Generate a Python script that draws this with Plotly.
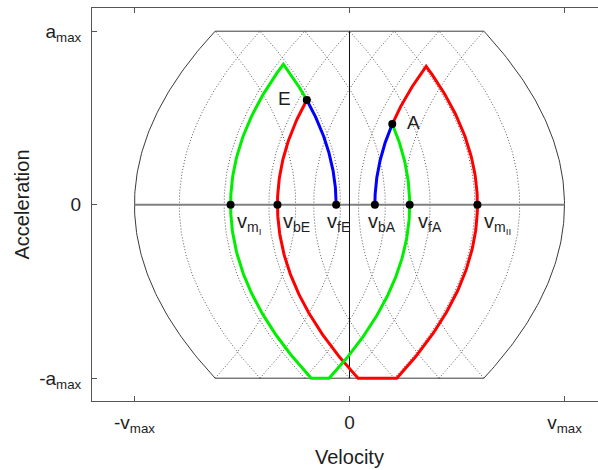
import numpy as np
import plotly.graph_objects as go

# Phase plane of a jerk-limited motion, normalised so that v_max = 1 and a_max = 1.
V_MAX = 1.0
A_MAX = 1.0
# Velocity change of a constant-jerk arc from a = 0 to a = ±a_max (a_max^2 / 2 j_max)
JERK_SPAN = 0.375
# Number of lattice cells across the top/bottom edge of the reachable region
LATTICE_CELLS = 6

# Characteristic velocities at zero acceleration
point_keys = ["mI", "bE", "fE", "bA", "fA", "mII"]
zero_acc_vel = [-0.553, -0.335, -0.062, 0.118, 0.280, 0.595]
point_labels = ["v<sub>m<sub>I</sub></sub>", "v<sub>bE</sub>", "v<sub>fE</sub>",
                "v<sub>bA</sub>", "v<sub>fA</sub>", "v<sub>m<sub>II</sub></sub>"]

# Axis ticks
x_tickvals = [-V_MAX, 0, V_MAX]
x_ticktext = ["-v<sub>max</sub>", "0", "v<sub>max</sub>"]
y_tickvals = [-A_MAX, 0, A_MAX]
y_ticktext = ["-a<sub>max</sub>", "0", "a<sub>max</sub>"]

vel = dict(zip(point_keys, zero_acc_vel))
K = JERK_SPAN


def arc(c, sign, a0, a1, n=120):
    """Constant-jerk arc v = c + sign*K*a^2 for a running from a0 to a1."""
    a = np.linspace(a0, a1, n)
    return list(c + sign * K * a ** 2), list(a)


def meet(c_right_open, c_left_open):
    """Positive acceleration where v = c1 + K a^2 meets v = c2 - K a^2."""
    return np.sqrt((c_left_open - c_right_open) / (2 * K))


def join(*segs, gap=False):
    xs, ys = [], []
    for sx, sy in segs:
        if gap and xs:
            xs.append(None)
            ys.append(None)
        xs += sx
        ys += sy
    return xs, ys


# Switching points E and A
aE = meet(vel["bE"], vel["fE"])
vE = vel["bE"] + K * aE ** 2
aA = meet(vel["bA"], vel["fA"])
vA = vel["bA"] + K * aA ** 2
a_red_top = meet(vel["bA"], vel["mII"])
a_green_top = meet(vel["mI"], vel["fE"])

red = join(arc(vel["bE"], +1, aE, -A_MAX),
           arc(vel["mII"], -1, -A_MAX, a_red_top),
           arc(vel["bA"], +1, a_red_top, aA))
green = join(arc(vel["fA"], -1, aA, -A_MAX),
             arc(vel["mI"], +1, -A_MAX, a_green_top),
             arc(vel["fE"], -1, a_green_top, aE))
blue = join(arc(vel["fE"], -1, aE, 0), arc(vel["bA"], +1, aA, 0), gap=True)

# Reachable-region boundary
edge = V_MAX - K * A_MAX ** 2
boundary = join(([-edge, edge], [A_MAX, A_MAX]),
                arc(V_MAX, -1, A_MAX, -A_MAX),
                ([edge, -edge], [-A_MAX, -A_MAX]),
                arc(-V_MAX, +1, -A_MAX, A_MAX))

# Dotted lattice of constant-jerk arcs touching a = ±a_max
lattice = []
for t in np.linspace(-edge, edge, LATTICE_CELLS + 1):
    for c, s in ((t + K, -1), (t - K, +1)):
        if abs(c) < V_MAX - 1e-9:
            lattice.append(arc(c, s, -A_MAX, A_MAX))
lattice = join(*lattice, gap=True)

FONT = "Liberation Sans, Arial, sans-serif"
TXT = "#1e1e1e"

fig = go.Figure()
fig.add_trace(go.Scatter(x=lattice[0], y=lattice[1], mode="lines",
                         line=dict(color="#5a5a5a", width=1, dash="1px,2px"),
                         hoverinfo="skip"))
fig.add_trace(go.Scatter(x=boundary[0], y=boundary[1], mode="lines",
                         line=dict(color="#3a3a3a", width=1), hoverinfo="skip"))
fig.add_trace(go.Scatter(x=[-V_MAX, V_MAX], y=[0, 0], mode="lines",
                         line=dict(color="#808080", width=2), hoverinfo="skip"))
fig.add_trace(go.Scatter(x=[0, 0], y=[-A_MAX, A_MAX], mode="lines",
                         line=dict(color="#111111", width=1), hoverinfo="skip"))
for path, col in ((red, "#ff0000"), (green, "#00ee00"), (blue, "#0000ff")):
    fig.add_trace(go.Scatter(x=path[0], y=path[1], mode="lines",
                             line=dict(color=col, width=3), hoverinfo="skip"))

fig.add_trace(go.Scatter(x=zero_acc_vel + [vE, vA], y=[0] * len(zero_acc_vel) + [aE, aA],
                         mode="markers", marker=dict(color="black", size=8),
                         hoverinfo="skip"))

annotations = []
label_dx = [5, 5, -10, -8, 7, 6]
for v, txt, dx in zip(zero_acc_vel, point_labels, label_dx):
    annotations.append(dict(x=v, y=0, xref="x", yref="y", text=txt, showarrow=False,
                            xanchor="left", yanchor="top", xshift=dx - 1, yshift=-3,
                            font=dict(family=FONT, size=20, color=TXT)))
annotations.append(dict(x=vE, y=aE, xref="x", yref="y", text="E", showarrow=False,
                        xshift=-22, yshift=2, font=dict(family=FONT, size=19, color=TXT)))
annotations.append(dict(x=vA, y=aA, xref="x", yref="y", text="A", showarrow=False,
                        xshift=21, yshift=2, font=dict(family=FONT, size=19, color=TXT)))
annotations.append(dict(x=0, y=0, xref="x", yref="paper", text="Velocity", showarrow=False,
                        yanchor="middle", yshift=-56,
                        font=dict(family=FONT, size=20, color=TXT)))
annotations.append(dict(x=0, y=0.5, xref="paper", yref="paper", text="Acceleration",
                        showarrow=False, textangle=-90, xanchor="center", yanchor="middle",
                        xshift=-71, font=dict(family=FONT, size=20, color=TXT)))

fig.update_layout(
    width=598, height=470,
    margin=dict(l=92, r=0, t=8, b=69),
    paper_bgcolor="white", plot_bgcolor="white",
    showlegend=False,
    annotations=annotations,
    xaxis=dict(range=[-1.1976, 1.1558], showgrid=False, zeroline=False,
               showline=True, linecolor="#555555", linewidth=1, mirror="ticks",
               ticks="inside", ticklen=5, tickcolor="#555555",
               tickvals=x_tickvals, ticktext=x_ticktext, ticklabelstandoff=4,
               tickfont=dict(family=FONT, size=19, color=TXT)),
    yaxis=dict(range=[-1.1314, 1.1337], showgrid=False, zeroline=False,
               showline=True, linecolor="#555555", linewidth=1, mirror=False,
               ticks="inside", ticklen=5, tickcolor="#555555",
               tickvals=y_tickvals, ticktext=y_ticktext, ticklabelstandoff=6,
               tickfont=dict(family=FONT, size=19, color=TXT)),
)

fig.write_html("out.html")
